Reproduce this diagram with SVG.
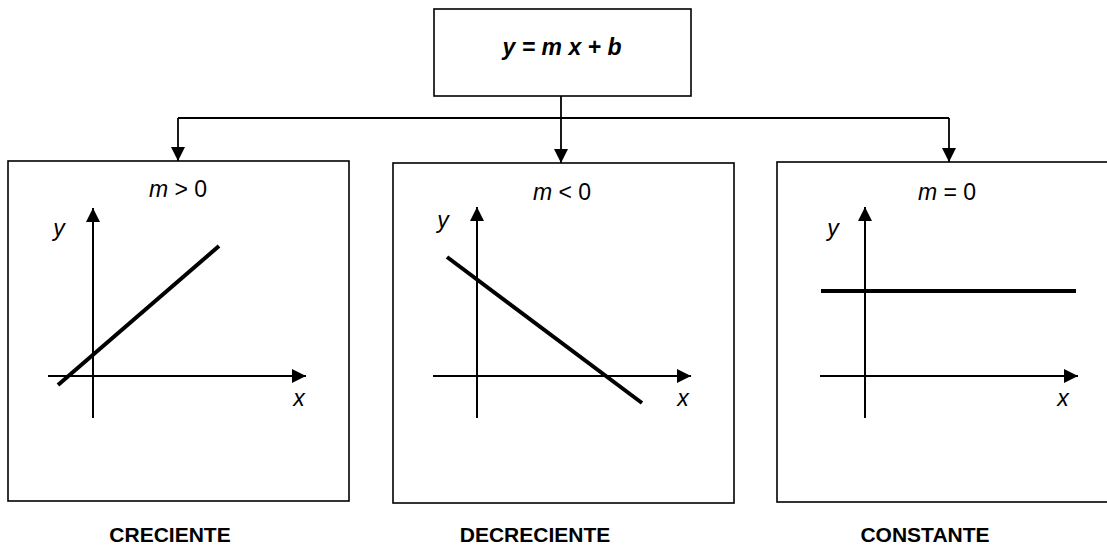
<svg xmlns="http://www.w3.org/2000/svg" width="1107" height="549" viewBox="0 0 1107 549">
<style>
.box{fill:#fff;stroke:#000;stroke-width:1.6}
.conn{fill:none;stroke:#000;stroke-width:1.8}
.axis{fill:none;stroke:#000;stroke-width:2}
.graph{fill:none;stroke:#000;stroke-width:4}
text{font-family:"Liberation Sans",Arial,sans-serif;fill:#000}
.eq{font-size:23px;font-weight:bold;font-style:italic}
.cond{font-size:23px}
.lab{font-size:23px;font-style:italic}
.title{font-size:21px;font-weight:bold}
</style>
<defs>
<marker id="ah" viewBox="0 0 14 14" refX="14" refY="7" markerWidth="14" markerHeight="14" markerUnits="userSpaceOnUse" orient="auto">
<path d="M0,0 L14,7 L0,14 Z" fill="#000"/>
</marker>
</defs>
<g id="connectors">
<line class="conn" x1="561" y1="96" x2="561" y2="118"/>
<line class="conn" x1="178" y1="118" x2="949" y2="118"/>
<line class="conn" x1="178" y1="118" x2="178" y2="161" marker-end="url(#ah)"/>
<line class="conn" x1="561" y1="118" x2="561" y2="163" marker-end="url(#ah)"/>
<line class="conn" x1="949" y1="118" x2="949" y2="162" marker-end="url(#ah)"/>
</g>
<g id="top">
<rect class="box" x="434" y="9" width="257" height="87"/>
<text class="eq" x="562" y="55" text-anchor="middle" xml:space="preserve">y = m x + b</text>
</g>
<g id="creciente">
<rect class="box" x="8" y="161" width="341" height="340"/>
<text class="cond" x="178" y="197" text-anchor="middle"><tspan font-style="italic">m</tspan> &gt; 0</text>
<line class="axis" x1="93" y1="418" x2="93" y2="208" marker-end="url(#ah)"/>
<line class="axis" x1="48" y1="376" x2="306" y2="376" marker-end="url(#ah)"/>
<text class="lab" x="59" y="236" text-anchor="middle">y</text>
<text class="lab" x="299" y="406" text-anchor="middle">x</text>
<line class="graph" x1="58" y1="385" x2="219" y2="246"/>
<text class="title" x="170" y="542" text-anchor="middle">CRECIENTE</text>
</g>
<g id="decreciente">
<rect class="box" x="393" y="163" width="341" height="340"/>
<text class="cond" x="562" y="200" text-anchor="middle"><tspan font-style="italic">m</tspan> &lt; 0</text>
<line class="axis" x1="477" y1="418" x2="477" y2="207" marker-end="url(#ah)"/>
<line class="axis" x1="433" y1="376" x2="691" y2="376" marker-end="url(#ah)"/>
<text class="lab" x="443" y="228" text-anchor="middle">y</text>
<text class="lab" x="683" y="406" text-anchor="middle">x</text>
<line class="graph" x1="447" y1="257" x2="642" y2="403"/>
<text class="title" x="535" y="542" text-anchor="middle">DECRECIENTE</text>
</g>
<g id="constante">
<rect class="box" x="777" y="162" width="345" height="340"/>
<text class="cond" x="947" y="200" text-anchor="middle"><tspan font-style="italic">m</tspan> = 0</text>
<line class="axis" x1="865" y1="418" x2="865" y2="207" marker-end="url(#ah)"/>
<line class="axis" x1="820" y1="376" x2="1078" y2="376" marker-end="url(#ah)"/>
<text class="lab" x="833" y="236" text-anchor="middle">y</text>
<text class="lab" x="1063" y="406" text-anchor="middle">x</text>
<line class="graph" x1="821" y1="291" x2="1076" y2="291"/>
<text class="title" x="925" y="542" text-anchor="middle">CONSTANTE</text>
</g>
</svg>
